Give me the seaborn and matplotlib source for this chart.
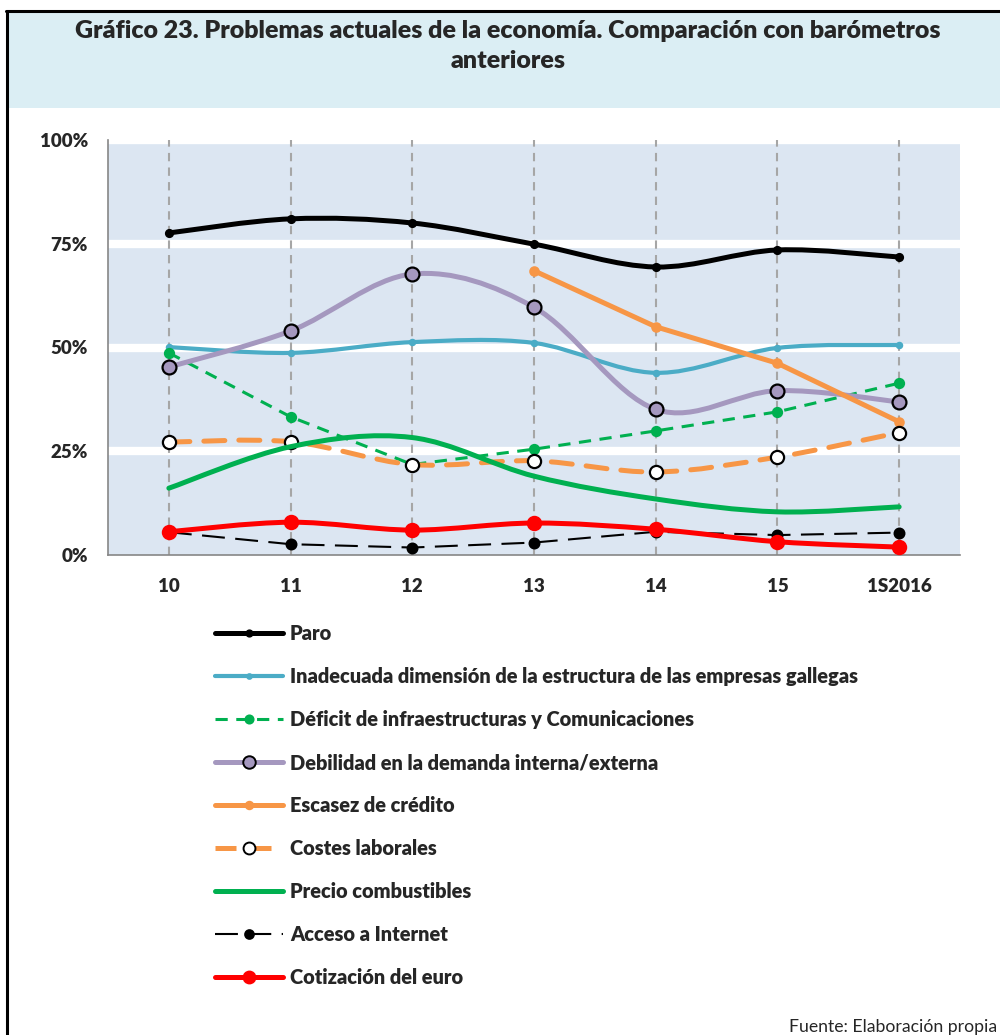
import numpy as np
import pandas as pd
import matplotlib
matplotlib.use("Agg")
import matplotlib.pyplot as plt
from matplotlib.path import Path
from matplotlib.patches import PathPatch, Rectangle
from matplotlib.lines import Line2D
import seaborn as sns

# data (percentages)
periodos = ["10", "11", "12", "13", "14", "15", "1S2016"]
paro = [77.6, 81.0, 80.0, 74.9, 69.4, 73.5, 71.8]
inadecuada = [50.1, 48.7, 51.3, 51.1, 43.9, 49.9, 50.6]
deficit = [48.7, 33.3, 21.8, 25.5, 29.9, 34.5, 41.4]
debilidad = [45.3, 54.0, 67.7, 59.7, 35.1, 39.6, 36.9]
escasez = [np.nan, np.nan, np.nan, 68.5, 55.0, 46.2, 32.1]
costes = [27.2, 27.3, 21.8, 22.7, 20.0, 23.6, 29.5]
combustibles = [16.1, 26.1, 28.3, 19.0, 13.5, 10.4, 11.6]
internet = [5.5, 2.6, 1.8, 3.0, 5.6, 4.8, 5.4]
euro = [5.6, 7.9, 6.0, 7.7, 6.2, 3.2, 1.9]

series = [
    ("Paro", paro),
    ("Inadecuada dimensión de la estructura de las empresas gallegas", inadecuada),
    ("Déficit de infraestructuras y Comunicaciones", deficit),
    ("Debilidad en la demanda interna/externa", debilidad),
    ("Escasez de crédito", escasez),
    ("Costes laborales", costes),
    ("Precio combustibles", combustibles),
    ("Acceso a Internet", internet),
    ("Cotización del euro", euro),
]

# look of every series: color, width, dashes, marker, size, face, edge, smooth
estilos = {
    "Paro": dict(c="black", lw=3.6, ls="-", m="o", ms=5, mfc="black", mec="black", smooth=True),
    "Inadecuada dimensión de la estructura de las empresas gallegas":
        dict(c="#4bacc6", lw=3.0, ls="-", m="o", ms=3.8, mfc="#4bacc6", mec="#4bacc6", smooth=True),
    "Déficit de infraestructuras y Comunicaciones":
        dict(c="#00b050", lw=2.2, ls=(0, (4, 2.8)), m="o", ms=6.5, mfc="#00b050", mec="#00b050", smooth=False),
    "Debilidad en la demanda interna/externa":
        dict(c="#a598bf", lw=3.6, ls="-", m="o", ms=10, mfc="#a598bf", mec="black", smooth=True),
    "Escasez de crédito": dict(c="#f79646", lw=3.6, ls="-", m="o", ms=6, mfc="#f79646", mec="#f79646", smooth=False),
    "Costes laborales": dict(c="#f79646", lw=3.6, ls=(0, (4.2, 2.8)), m="o", ms=9.5, mfc="white", mec="black", smooth=True),
    "Precio combustibles": dict(c="#00b050", lw=3.6, ls="-", m=None, ms=0, mfc="none", mec="none", smooth=True),
    "Acceso a Internet": dict(c="black", lw=1.5, ls=(0, (11, 5)), m="o", ms=7, mfc="black", mec="black", smooth=False),
    "Cotización del euro": dict(c="#ff0000", lw=3.6, ls="-", m="o", ms=9.5, mfc="#ff0000", mec="#ff0000", smooth=True),
}

df = pd.concat([pd.DataFrame({"serie": n, "pos": np.arange(len(periodos)), "valor": v}) for n, v in series])

sns.set_style("white")
plt.rcParams["font.family"] = ["Lato", "DejaVu Sans"]
plt.rcParams["font.weight"] = "bold"


def smooth_path(x, y):
    # excel-like smoothed line: cubic bezier through the points
    pts = np.column_stack([x, y])
    verts = [pts[0]]
    codes = [Path.MOVETO]
    n = len(pts)
    for i in range(n - 1):
        p0 = pts[max(i - 1, 0)]
        p1 = pts[i]
        p2 = pts[i + 1]
        p3 = pts[min(i + 2, n - 1)]
        verts += [p1 + (p2 - p0) / 6, p2 - (p3 - p1) / 6, p2]
        codes += [Path.CURVE4] * 3
    return Path(verts, codes)


fig = plt.figure(figsize=(10, 10.35), dpi=100)
H = 1035.0

# title band and frame
fig.patches.append(Rectangle((8 / 1000, 1 - 108 / H), 1, 96 / H, transform=fig.transFigure,
                             facecolor="#dbeef4", edgecolor="none", zorder=0))
fig.lines.append(Line2D([7 / 1000, 7 / 1000], [0, 1 - 11 / H], transform=fig.transFigure, color="black", lw=2.2))
fig.lines.append(Line2D([6 / 1000, 1], [1 - 11 / H, 1 - 11 / H], transform=fig.transFigure, color="black", lw=2.2))
fig.text(0.508, 1 - 46 / H, "Gráfico 23. Problemas actuales de la economía. Comparación con barómetros\nanteriores",
         ha="center", va="center", fontsize=18, fontweight="heavy", linespacing=1.42)

ax = fig.add_axes([0.108, 1 - 555 / H, 0.852, 415 / H])
ax.set_facecolor("#dce6f2")

for k, (nombre, _) in enumerate(series):
    st = estilos[nombre]
    d = df[df["serie"] == nombre].dropna()
    z = 3 + k
    if st["smooth"]:
        patch = PathPatch(smooth_path(d["pos"].values, d["valor"].values), facecolor="none",
                          edgecolor=st["c"], lw=st["lw"], linestyle=st["ls"], zorder=z, capstyle="round")
        ax.add_patch(patch)
        if st["m"]:
            sns.lineplot(data=d, x="pos", y="valor", ax=ax, estimator=None, linestyle="", marker=st["m"],
                         markersize=st["ms"], markerfacecolor=st["mfc"], markeredgecolor=st["mec"],
                         markeredgewidth=1.6, color=st["c"], zorder=z + 0.5, legend=False)
    else:
        sns.lineplot(data=d, x="pos", y="valor", ax=ax, estimator=None, linestyle=st["ls"], linewidth=st["lw"],
                     marker=st["m"], markersize=st["ms"], markerfacecolor=st["mfc"], markeredgecolor=st["mec"],
                     markeredgewidth=1.6, color=st["c"], zorder=z, legend=False)

ax.set_xlim(-0.5, len(periodos) - 0.5)
ax.set_ylim(0, 100)
ax.set_xticks(np.arange(len(periodos)))
ax.set_xticklabels(periodos)
ax.set_xticks([-0.5, len(periodos) - 0.5], minor=True)
ax.set_yticks([0, 25, 50, 75, 100])
ax.set_yticklabels(["0%", "25%", "50%", "75%", "100%"])
ax.set_xlabel("")
ax.set_ylabel("")
ax.grid(False)
for yv in [25, 50, 75, 100]:
    ax.axhline(yv, color="white", lw=6, zorder=1, clip_on=True)
for xv in range(len(periodos)):
    ax.axvline(xv, color="#a6a6a6", lw=1.5, ls=(0, (4, 3)), zorder=2)
for s in ["top", "right"]:
    ax.spines[s].set_visible(False)
for s in ["left", "bottom"]:
    ax.spines[s].set_color("#868686")
    ax.spines[s].set_linewidth(1.2)
ax.tick_params(axis="both", which="both", direction="out", length=4.5, color="#a6a6a6", width=1.2,
               labelsize=13.5, pad=10)
ax.tick_params(axis="x", pad=12)
for lab in ax.get_xticklabels() + ax.get_yticklabels():
    lab.set_fontweight("heavy")

# legend under the plot
handles = []
for nombre, _ in series:
    st = estilos[nombre]
    handles.append(Line2D([], [], color=st["c"], lw=st["lw"], ls=st["ls"], marker=st["m"],
                          markersize=st["ms"] * 0.9, markerfacecolor=st["mfc"], markeredgecolor=st["mec"],
                          markeredgewidth=1.4))
fig.legend(handles, [n for n, _ in series], loc="upper left", bbox_to_anchor=(215 / 1000, 1 - 624 / H),
           frameon=False, borderaxespad=0, borderpad=0, handlelength=3.4, handletextpad=0.35,
           labelspacing=1.2, numpoints=1, prop=dict(size=14.4, weight="heavy"))

fig.text(0.997, 1 - 1027 / H, "Fuente: Elaboración propia", ha="right", va="center", fontsize=12.7,
         fontweight="normal")

fig.savefig("out.png", dpi=100)
